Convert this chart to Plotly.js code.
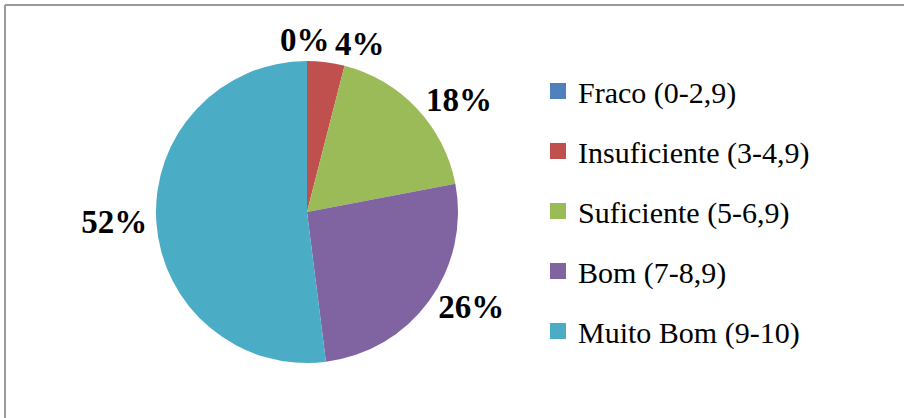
<!DOCTYPE html>
<html>
<head>
<meta charset="utf-8">
<script src="https://cdn.plot.ly/plotly-3.0.1.min.js"></script>
<style>
html,body{margin:0;padding:0;background:#fff;}
#chart{width:904px;height:418px;}
</style>
</head>
<body>
<div id="chart"></div>
<script>
var categories = ["Fraco (0-2,9)", "Insuficiente (3-4,9)", "Suficiente (5-6,9)", "Bom (7-8,9)", "Muito Bom (9-10)"];
var values = [0, 4, 18, 26, 52];
var colors = ["#4F81BD", "#C0504D", "#9BBB59", "#8064A2", "#4BACC6"];

var W = 904, H = 418;
var serif = "Liberation Serif";
var total = values.reduce(function (a, b) { return a + b; }, 0);

var pie = {
  type: "pie",
  labels: categories,
  values: values,
  sort: false,
  direction: "clockwise",
  rotation: 0,
  textinfo: "percent",
  textposition: values.map(function (v) { return v > 0 ? "outside" : "none"; }),
  outsidetextfont: {family: serif, size: 33, color: "#000", weight: "bold"},
  marker: {colors: colors, line: {width: 0}},
  showlegend: false,
  hoverinfo: "label+percent",
  domain: {x: [155 / W, 459 / W], y: [1 - 363 / H, 1 - 61 / H]}
};

var legendTraces = categories.map(function (c, i) {
  return {
    type: "scatter",
    mode: "markers",
    x: [null], y: [null],
    name: c,
    legendgroup: "g" + i,
    marker: {symbol: "square", size: 16, color: colors[i]},
    showlegend: true,
    hoverinfo: "skip"
  };
});

// zero-value slice label (Plotly cannot place it beside its neighbour)
var zeroAnn = [];
values.forEach(function (v, i) {
  if (v === 0) {
    zeroAnn.push({
      xref: "paper", yref: "paper",
      x: 305 / W, y: 1 - 40 / H,
      xanchor: "center", yanchor: "middle",
      text: Math.round(v / total * 100) + "%",
      showarrow: false,
      font: {family: serif, size: 33, color: "#000", weight: "bold"}
    });
  }
});

var layout = {
  width: W, height: H,
  margin: {l: 0, r: 0, t: 0, b: 0},
  paper_bgcolor: "#fff",
  plot_bgcolor: "rgba(0,0,0,0)",
  xaxis: {visible: false},
  yaxis: {visible: false},
  showlegend: true,
  legend: {
    x: 538 / W, xanchor: "left",
    y: 1 - 65 / H, yanchor: "top",
    font: {family: serif, size: 30, color: "#000"},
    traceorder: "grouped",
    tracegroupgap: 18,
    bgcolor: "rgba(0,0,0,0)",
    itemclick: false
  },
  annotations: zeroAnn,
  shapes: [
    {type: "line", xref: "paper", yref: "paper", x0: 5 / W, x1: 1, y0: 1 - 5 / H, y1: 1 - 5 / H, line: {color: "#9A9A9A", width: 2}},
    {type: "line", xref: "paper", yref: "paper", x0: 5 / W, x1: 5 / W, y0: 0, y1: 1 - 5 / H, line: {color: "#9A9A9A", width: 2}}
  ]
};

Plotly.newPlot("chart", [pie].concat(legendTraces), layout, {displayModeBar: false});
</script>
</body>
</html>
